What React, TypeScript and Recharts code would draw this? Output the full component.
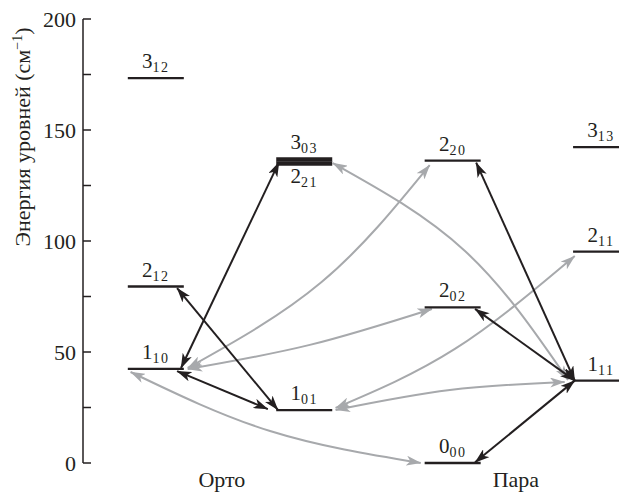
import { ComposedChart, Line, Scatter, XAxis, YAxis } from "recharts"

const INK = "#231f20"
const GREY = "#a7a9ac"
const FONT = "'Liberation Serif', 'Times New Roman', serif"

// H2O rotational levels, cm^-1
const levelNames = ["3_12", "2_12", "1_10", "1_01", "3_03", "2_21", "2_20", "2_02", "0_00", "1_11", "3_13", "2_11"]
const levelEnergies = [173.4, 79.5, 42.4, 23.8, 136.8, 134.9, 136.2, 70.1, 0, 37.1, 142.3, 95.2]
const levelColumns = [0, 0, 0, 1, 1, 1, 2, 2, 2, 3, 3, 3]
const columnStarts = [0, 2.65, 5.3, 7.95]
const columnEnds = [1, 3.65, 6.3, 8.77]

const groupNames = ["Орто", "Пара"]
const groupPositions = [1.68, 6.93]

const energyTicks = [0, 25, 50, 75, 100, 125, 150, 175, 200]

// black: straight, heads at both ends
const blackArrows: number[][][] = [
  [[0.95, 42.8], [2.7, 135.5]],
  [[0.88, 78.8], [2.68, 23.9]],
  [[0.88, 41.4], [2.5, 24.3]],
  [[6.22, 135.3], [7.98, 37.1]],
  [[6.2, 69.4], [7.98, 37.1]],
  [[6.2, 0.3], [7.98, 37.1]],
]

// grey: curved, start / passing point / end
const greyArrows: number[][][] = [
  [[3.66, 135.1], [6.02, 95.5], [7.86, 37.4]],
  [[1.07, 42.8], [3.46, 81.5], [5.39, 134.2]],
  [[1.07, 42.3], [3.25, 53.2], [5.43, 69.4]],
  [[3.71, 23.9], [5.75, 32.9], [7.8, 36.5]],
  [[3.71, 24.8], [5.84, 51.4], [7.98, 93.2]],
  [[0.05, 41], [2.54, 14.4], [5.23, 0]],
]

const labelsBelow = new Set(["2_21"])
// 3_03 and 2_21 nearly coincide and are drawn as one heavy bar
const heavyLevels = new Set(["3_03", "2_21"])

const toPoints = (pts: number[][]) => pts.map(([x, y]) => ({ x, y }))

const labelData = levelNames.map((name, i) => ({
  x: columnStarts[levelColumns[i]] + 0.5,
  y: levelEnergies[i],
  name,
}))

function LevelLabel(props: any) {
  const { cx, cy, payload } = props
  const [main, sub] = payload.name.split("_")
  const y = labelsBelow.has(payload.name) ? cy + 19 : cy - 10
  return (
    <text x={cx} y={y} textAnchor="middle" fontFamily={FONT} fontSize={21} fill={INK}>
      {main}
      <tspan fontSize={14} dy={4} letterSpacing={1.5}>{sub}</tspan>
    </text>
  )
}

function AxisTitle(props: any) {
  const vb = props.viewBox || { x: 0, y: 19 }
  const x = vb.x + 30
  const y = vb.y + 118
  return (
    <text
      x={x}
      y={y}
      transform={`rotate(-90 ${x} ${y})`}
      textAnchor="middle"
      fontFamily={FONT}
      fontSize={22}
      fill={INK}
    >
      Энергия уровней (см
      <tspan dy={-8} fontSize={14}>−1</tspan>
      <tspan dy={8}>)</tspan>
    </text>
  )
}

export default function App() {
  return (
    <div style={{ position: "absolute", left: 0, top: 0, width: 619, height: 493, background: "#fff" }}>
      <ComposedChart width={619} height={493} margin={{ top: 19, right: 0, bottom: 0, left: 0 }}>
        <defs>
          <marker
            id="head-black"
            viewBox="0 0 15 10"
            refX={14.5}
            refY={5}
            markerWidth={15}
            markerHeight={10}
            markerUnits="userSpaceOnUse"
            orient="auto-start-reverse"
          >
            <path d="M0,0 L15,5 L0,10 L4,5 Z" fill={INK} />
          </marker>
          <marker
            id="head-grey"
            viewBox="0 0 15 10"
            refX={14.5}
            refY={5}
            markerWidth={15}
            markerHeight={10}
            markerUnits="userSpaceOnUse"
            orient="auto-start-reverse"
          >
            <path d="M0,0 L15,5 L0,10 L4,5 Z" fill={GREY} />
          </marker>
        </defs>
        <XAxis
          type="number"
          dataKey="x"
          domain={[-0.8, 8.77]}
          ticks={groupPositions}
          interval={0}
          tickFormatter={(v: number) => groupNames[groupPositions.indexOf(v)] ?? ""}
          axisLine={false}
          tickLine={false}
          tickSize={0}
          tickMargin={8}
          height={30}
          tick={{ fill: INK, fontSize: 22, fontFamily: FONT }}
        />
        <YAxis
          type="number"
          dataKey="y"
          domain={[0, 200]}
          ticks={energyTicks}
          interval={0}
          width={83}
          tickSize={-8}
          tickMargin={15}
          tickFormatter={(v: number) => (v % 50 === 0 ? String(v) : "")}
          axisLine={{ stroke: INK, strokeWidth: 1.5 }}
          tickLine={{ stroke: INK, strokeWidth: 1.5 }}
          tick={{ fill: INK, fontSize: 22, fontFamily: FONT }}
          label={{ content: (p: any) => <AxisTitle {...p} /> }}
        />
        {greyArrows.map((pts, i) => (
          <Line
            key={`g${i}`}
            data={toPoints(pts)}
            dataKey="y"
            type="natural"
            stroke={GREY}
            strokeWidth={2}
            dot={false}
            activeDot={false}
            markerStart="url(#head-grey)"
            markerEnd="url(#head-grey)"
            isAnimationActive={false}
          />
        ))}
        {levelNames.map((name, i) => (
          <Line
            key={name}
            data={[
              { x: columnStarts[levelColumns[i]], y: levelEnergies[i] },
              { x: columnEnds[levelColumns[i]], y: levelEnergies[i] },
            ]}
            dataKey="y"
            type="linear"
            stroke={INK}
            strokeWidth={heavyLevels.has(name) ? 4.3 : 2.3}
            dot={false}
            activeDot={false}
            isAnimationActive={false}
          />
        ))}
        {blackArrows.map((pts, i) => (
          <Line
            key={`b${i}`}
            data={toPoints(pts)}
            dataKey="y"
            type="linear"
            stroke={INK}
            strokeWidth={2}
            dot={false}
            activeDot={false}
            markerStart="url(#head-black)"
            markerEnd="url(#head-black)"
            isAnimationActive={false}
          />
        ))}
        <Scatter data={labelData} dataKey="y" shape={(p: any) => <LevelLabel {...p} />} isAnimationActive={false} />
      </ComposedChart>
    </div>
  )
}
